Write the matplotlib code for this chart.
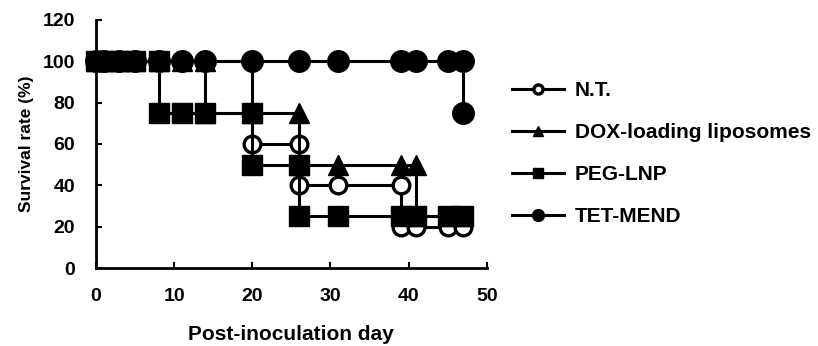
import matplotlib
matplotlib.use("Agg")
import matplotlib.pyplot as plt

plt.rcParams['font.family'] = ['Liberation Sans', 'DejaVu Sans']

# survival curves (day, %), repeated day = drop on that day
nt_days = [0, 1, 3, 5, 8, 11, 14, 20, 20, 26, 26, 31, 39, 39, 41, 45, 47]
nt_vals = [100, 100, 100, 100, 100, 100, 100, 100, 60, 60, 40, 40, 40, 20, 20, 20, 20]

dox_days = [0, 1, 3, 5, 8, 11, 14, 14, 20, 26, 26, 31, 39, 41, 41, 45, 47]
dox_vals = [100, 100, 100, 100, 100, 100, 100, 75, 75, 75, 50, 50, 50, 50, 25, 25, 25]

peg_days = [0, 1, 3, 5, 8, 8, 11, 14, 20, 20, 26, 26, 31, 39, 41, 45, 47]
peg_vals = [100, 100, 100, 100, 100, 75, 75, 75, 75, 50, 50, 25, 25, 25, 25, 25, 25]

tet_days = [0, 1, 3, 5, 8, 11, 14, 20, 26, 31, 39, 41, 45, 47, 47]
tet_vals = [100, 100, 100, 100, 100, 100, 100, 100, 100, 100, 100, 100, 100, 100, 75]

labels = ['N.T.', 'DOX-loading liposomes', 'PEG-LNP', 'TET-MEND']

fig = plt.figure(figsize=(8.18, 3.46), dpi=100)
ax = fig.add_axes([0.1174, 0.2254, 0.4776, 0.717])

lw = 2.2
# drawing order: N.T. at the bottom, then TET, DOX, PEG on top
h_nt, = ax.plot(nt_days, nt_vals, '-o', color='black', lw=lw, ms=12, mfc='white', mec='black',
                mew=2.4, clip_on=False, zorder=3)
h_tet, = ax.plot(tet_days, tet_vals, '-o', color='black', lw=lw, ms=15.5, clip_on=False, zorder=4)
h_dox, = ax.plot(dox_days, dox_vals, '-^', color='black', lw=lw, ms=14, clip_on=False, zorder=5)
h_peg, = ax.plot(peg_days, peg_vals, '-s', color='black', lw=lw, ms=14, clip_on=False, zorder=6)

ax.set_xlim(0, 50)
ax.set_ylim(0, 120)
ax.set_xticks(range(0, 51, 10))
ax.set_yticks(range(0, 121, 20))
ax.spines['top'].set_visible(False)
ax.spines['right'].set_visible(False)
ax.spines['left'].set_linewidth(2)
ax.spines['bottom'].set_linewidth(2)
ax.tick_params(direction='in', length=4, width=1.5, labelsize=14)
ax.tick_params(axis='x', pad=14.5)
ax.tick_params(axis='y', pad=15)
for t in ax.get_xticklabels() + ax.get_yticklabels():
    t.set_fontweight('bold')

ax.set_xlabel('Post-inoculation day', fontsize=15, fontweight='bold', labelpad=14)
ax.set_ylabel('Survival rate (%)', fontsize=12.5, fontweight='bold', labelpad=6)

leg = fig.legend([h_nt, h_dox, h_peg, h_tet], labels, loc='upper left',
                 bbox_to_anchor=(0.603, 0.819), frameon=False,
                 prop={'weight': 'bold', 'size': 15}, markerscale=0.55,
                 handlelength=2.5, handletextpad=0.5, labelspacing=1.1)

fig.savefig('out.png', dpi=100)
